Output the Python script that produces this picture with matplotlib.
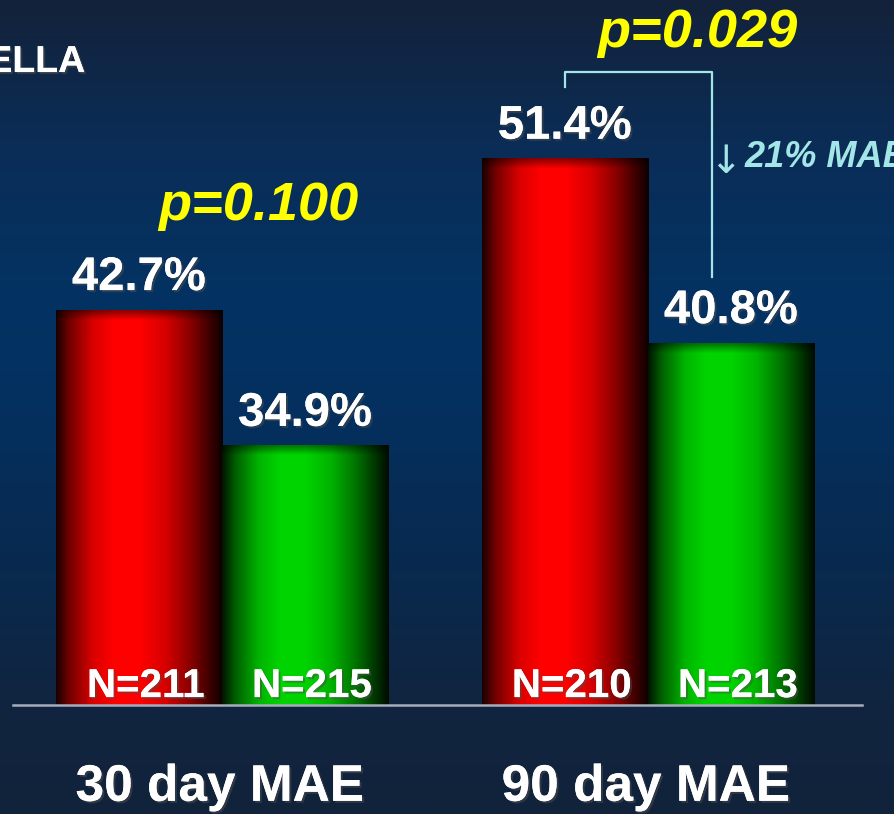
import numpy as np
import matplotlib
matplotlib.use("Agg")
import matplotlib.pyplot as plt
from matplotlib import patheffects as pe
from matplotlib.colors import LinearSegmentedColormap

# chart data
groups = ["30 day MAE", "90 day MAE"]
control_pct = [42.7, 51.4]      # red bars
treated_pct = [34.9, 40.8]      # green bars
control_n = [211, 210]
treated_n = [215, 213]
p_values = ["p=0.100", "p=0.029"]
reduction_note = "21% MAE"

plt.rcParams["font.family"] = ["Liberation Sans", "DejaVu Sans"]

fig = plt.figure(figsize=(8.95, 8.14), dpi=100)
ax = fig.add_axes([0, 0, 1, 1])
ax.set_xlim(-0.521, 1.580)
ax.set_ylim(13.74, 60.52)
ax.axis("off")

# background: vertical navy gradient
bg_stops = [(0.0, "#13223a"), (0.18, "#0a2d57"), (0.37, "#033363"),
            (0.50, "#04305f"), (0.68, "#082a50"), (0.86, "#102540"), (1.0, "#12233b")]
bg_cmap = LinearSegmentedColormap.from_list("bg", bg_stops)
grad = np.linspace(0, 1, 400).reshape(-1, 1)
ax.imshow(grad, cmap=bg_cmap, aspect="auto", extent=(-0.521, 1.580, 13.74, 60.52),
          origin="upper", zorder=0)

base = 20.0
width = 0.39
x = np.arange(len(groups))

# horizontal shading profile of the bars (dark edges, bright left-centre)
prof_x = [0.0, 0.08, 0.22, 0.35, 0.50, 0.65, 0.80, 0.92, 1.0]
prof_v = [0.10, 0.45, 0.85, 1.0, 1.0, 0.85, 0.55, 0.25, 0.05]


def shaded_bar(xc, top, color):
    cols = np.linspace(0, 1, 200)
    h = np.interp(cols, prof_x, prof_v)
    rows = np.linspace(top, base, 300)
    d = top - rows
    v = 0.55 + 0.45 * np.clip(d / 0.55, 0, 1)
    f = v[:, None] * h[None, :]
    rgb = np.array(matplotlib.colors.to_rgb(color))
    img = f[:, :, None] * rgb[None, None, :]
    ax.imshow(img, aspect="auto", extent=(xc - width / 2, xc + width / 2, base, top),
              origin="upper", zorder=2, interpolation="bilinear")


def drop_shadow(t):
    t.set_path_effects([pe.withSimplePatchShadow(offset=(1.5, -1.5), alpha=0.5), pe.Normal()])


for i in range(len(groups)):
    for xc, val, n, col in [(x[i] - width / 2, control_pct[i], control_n[i], "#ff0000"),
                            (x[i] + width / 2, treated_pct[i], treated_n[i], "#00d400")]:
        shaded_bar(xc, val, col)
        drop_shadow(ax.text(xc, val + 1.15, f"{val:.1f}%", ha="center", va="baseline",
                            color="white", fontsize=34, fontweight="bold", zorder=5))
        drop_shadow(ax.text(xc + 0.016, base + 0.46, f"N={n}", ha="center", va="baseline",
                            color="white", fontsize=29, fontweight="bold", zorder=5))
    drop_shadow(ax.text(x[i] - 0.005, 14.5, groups[i], ha="center", va="baseline",
                        color="white", fontsize=37, fontweight="bold", zorder=5))

# baseline
ax.plot([-0.49, 1.502], [base, base], color="#a6adbb", lw=1.8, zorder=4)

# p-values
ax.text(0.085, 47.87, p_values[0], ha="center", va="baseline", color="#ffff00",
        fontsize=39, fontweight="bold", fontstyle="italic", zorder=5)
ax.text(1.115, 57.82, p_values[1], ha="center", va="baseline", color="#ffff00",
        fontsize=39, fontweight="bold", fontstyle="italic", zorder=5)

# bracket for the 90 day comparison
cyan = "#a3e6e8"
ax.plot([0.805, 0.805, 1.150, 1.150], [55.52, 56.38, 56.38, 44.6], color=cyan, lw=1.6, zorder=4)
ax.text(1.182, 50.55, "\u2193", ha="center", va="baseline", color=cyan,
        fontsize=28, family="DejaVu Sans", zorder=5)
ax.text(1.226, 50.92, reduction_note, ha="left", va="baseline", color=cyan,
        fontsize=26, fontweight="bold", fontstyle="italic", zorder=5)

# clipped title fragment
drop_shadow(ax.text(-0.321, 56.38, "ELLA", ha="right", va="baseline", color="white",
                    fontsize=27, fontweight="bold", zorder=5))

fig.savefig("out.png", dpi=100)
